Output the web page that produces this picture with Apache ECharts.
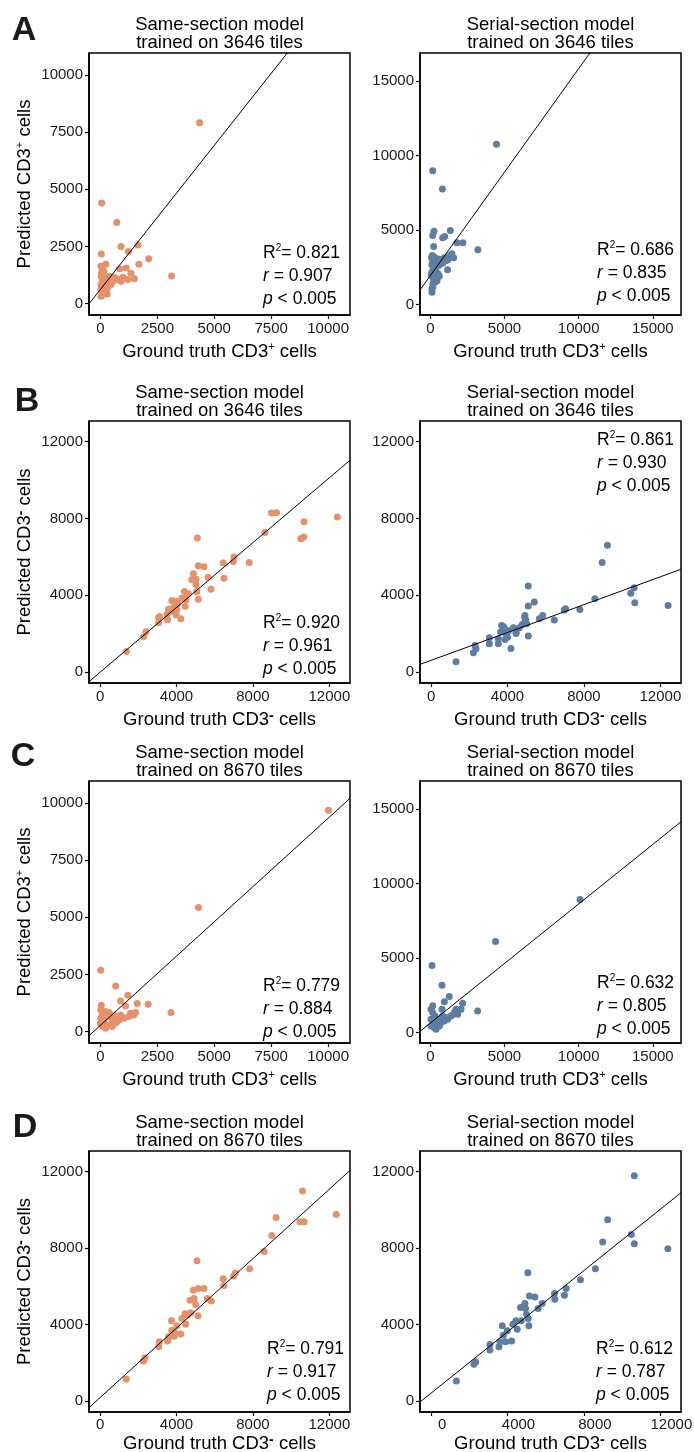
<!DOCTYPE html>
<html>
<head>
<meta charset="utf-8">
<script src="https://cdn.jsdelivr.net/npm/echarts@6/dist/echarts.min.js"></script>
<style>
  html, body { margin: 0; padding: 0; background: #fff; }
  #main { width: 694px; height: 1452px; }
</style>
</head>
<body>
<div id="main"></div>
<script>
// ground truth vs predicted cell counts
const aSame = [[4357, 7909], [58, 4400], [720, 3545], [44, 2164], [905, 2500], [1650, 2558], [1230, 2275], [2120, 1965],
  [1690, 1720], [3128, 1205], [240, 1725], [1130, 1555], [850, 1520], [1340, 1330], [1490, 1085], [1200, 1055],
  [88, 1513], [101, 1272], [395, 1199], [686, 1053], [905, 980], [540, 980], [246, 906], [26, 833], [26, 614],
  [175, 468], [26, 322], [320, 687], [465, 833], [100, 1053], [26, 1199], [26, 1637], [150, 1400], [200, 1150],
  [300, 1000], [120, 750], [60, 550], [230, 560], [380, 1100], [620, 1150], [760, 1080], [1000, 1150], [50, 1350],
  [180, 1000], [120, 400], [300, 420]];
const aSerial = [[4462, 10762], [157, 8991], [807, 7758], [1345, 4978], [242, 4930], [155, 4641], [962, 4574], [827, 4484],
  [222, 3901], [1789, 4148], [2193, 4148], [3202, 3679], [1453, 3410], [1567, 3141], [1184, 3007], [827, 2780],
  [1164, 2332], [558, 2623], [336, 2174], [222, 1614], [108, 827], [155, 1165], [424, 1726], [130, 3300], [250, 3200],
  [400, 3100], [590, 3050], [150, 3000], [300, 2900], [480, 2850], [700, 3000], [100, 2700], [200, 2500], [350, 2400],
  [500, 2100], [120, 2200], [250, 1900], [100, 1900], [180, 1350], [100, 1050], [300, 1500], [450, 1600], [600, 1900],
  [950, 3150], [1300, 3300], [60, 2050], [80, 3150], [1050, 2950]];
const bSame = [[1374, 1061], [2278, 1826], [2400, 2087], [3061, 2817], [3061, 2557], [3530, 2730], [3496, 2991], [3580, 3270],
  [3757, 3722], [3757, 3165], [3930, 3252], [3841, 3357], [4017, 3687], [3981, 2974], [4017, 3235], [4226, 2765],
  [4049, 3548], [4278, 3844], [4414, 4191], [4414, 3844], [4503, 3757], [4452, 3426], [4623, 4070], [4800, 4800],
  [4883, 5113], [5024, 4835], [5024, 4539], [5061, 4191], [5144, 3791], [5092, 6975], [5144, 5530], [5442, 5478],
  [5650, 4940], [5807, 4313], [6485, 4887], [6449, 5671], [6970, 5755], [7007, 5984], [7805, 5703], [8624, 7268],
  [8974, 8278], [9235, 8296], [10504, 6939], [10661, 7026], [10678, 7826], [12417, 8070], [3111, 2887], [3527, 2713]];
const bSerial = [[1307, 523], [2213, 993], [2352, 1202], [2300, 1376], [3049, 1463], [3049, 1777], [3519, 1463], [3519, 1725],
  [3641, 2073], [3693, 2422], [3868, 2213], [3868, 1690], [3950, 1950], [4050, 2150], [4181, 1220], [4303, 2300],
  [4443, 2073], [4617, 2300], [4774, 2474], [4913, 2944], [4948, 2700], [5000, 2509], [5087, 4477], [5087, 1864],
  [5087, 3432], [5401, 3641], [5662, 2770], [5836, 2944], [6446, 2700], [6969, 3223], [7038, 3293], [7787, 3258],
  [8571, 3815], [8955, 5697], [9233, 6603], [10453, 4094], [10627, 4390], [10662, 3606], [12404, 3467], [3800, 2350],
  [4450, 2000], [4900, 2850], [4000, 1800], [4950, 2600]];
const cSame = [[10015, 9680], [4309, 5429], [15, 2678], [670, 1994], [1208, 1587], [888, 1339], [1106, 1121], [1616, 1223],
  [2096, 1194], [3100, 830], [1325, 800], [1470, 728], [815, 509], [15, 946], [87, 728], [233, 873], [378, 655],
  [0, 364], [87, 218], [306, 291], [524, 437], [670, 582], [888, 728], [1033, 582], [1252, 655], [1543, 830],
  [233, 146], [524, 218], [15, 582], [378, 830], [597, 728], [40, 1150], [150, 500], [700, 400]];
const cSerial = [[10090, 8946], [4395, 6121], [112, 4507], [785, 3184], [1278, 2422], [942, 2063], [2175, 1973], [3184, 1457],
  [157, 1794], [785, 1570], [1726, 1570], [1570, 1233], [45, 1570], [157, 1345], [314, 1121], [45, 897], [269, 673],
  [493, 897], [45, 448], [269, 336], [605, 448], [942, 785], [1166, 897], [1390, 1121], [1614, 1345], [381, 224],
  [830, 1121], [1054, 1009], [1839, 1233], [2063, 1570], [717, 673], [157, 561]];
const dSame = [[1368, 1148], [2268, 2087], [2355, 2261], [3065, 2835], [3100, 3096], [3584, 3357], [3532, 3130], [3740, 4191],
  [3758, 3704], [3879, 3391], [4017, 3930], [4225, 3496], [4277, 4313], [4485, 4017], [4450, 4557], [4745, 4609],
  [4710, 5270], [4883, 5791], [4918, 5357], [5004, 5043], [5074, 7339], [5126, 4452], [5143, 5878], [5437, 5878],
  [5610, 5357], [5818, 5235], [6442, 6400], [6476, 6035], [6996, 6539], [7082, 6696], [7827, 6922], [8589, 7826],
  [8987, 8661], [9212, 9600], [10459, 9374], [10684, 9374], [10597, 10991], [12364, 9757], [3900, 3600], [4600, 4500]];
const dSerial = [[1323, 1043], [2245, 1913], [2333, 2052], [3081, 2661], [3081, 2957], [3551, 2835], [3603, 3096], [3725, 3930],
  [3777, 3443], [3899, 3096], [3986, 3670], [4212, 3130], [4282, 4017], [4508, 3757], [4439, 4191], [4717, 4191],
  [4682, 4887], [4909, 5096], [4944, 4835], [4996, 4539], [5065, 6713], [5083, 4313], [5117, 3930], [5152, 5496],
  [5431, 5443], [5605, 4835], [5814, 5096], [6458, 5617], [6475, 5322], [6980, 5530], [7067, 5878], [7815, 6348],
  [8599, 6922], [8982, 8313], [9243, 9478], [10479, 8713], [10635, 8226], [10635, 11791], [12393, 7965]];

// fitted lines and stats, panel order A-left, A-right, B-left ... D-right
const fitSlope = [1.26, 1.39, 0.845, 0.363, 0.906, 0.80, 0.909, 0.802];
const fitIntercept = [620, 1950, -20, 601, 272, 643, 175, 407];
const r2Labels = ['0.821', '0.686', '0.920', '0.861', '0.779', '0.632', '0.791', '0.612'];
const rLabels = ['0.907', '0.835', '0.961', '0.930', '0.884', '0.805', '0.917', '0.787'];
const tileCounts = ['3646', '3646', '3646', '3646', '8670', '8670', '8670', '8670'];
const panelLetters = ['A', 'B', 'C', 'D'];

const posTicks = [0, 2500, 5000, 7500, 10000];
const posSerialTicks = [0, 5000, 10000, 15000];
const negTicks = [0, 4000, 8000, 12000];

const FONT = '"Liberation Sans", Arial, Helvetica, sans-serif';
const ORANGE = '#E5916B';
const BLUE = '#5E7DA3';

const posRange = [-500, 10960];
const posSerialRange = [-700, 16900];
const negRange = [-580, 13080];

// layout of each panel box (left, top, width, height) and where the stats go
const panels = [
  { data: aSame, color: ORANGE, box: [89, 53, 261, 262], range: posRange, ticks: posTicks, sign: '+', model: 'Same-section', stat: [263, 253] },
  { data: aSerial, color: BLUE, box: [420, 53, 261, 262], range: posSerialRange, ticks: posSerialTicks, sign: '+', model: 'Serial-section', stat: [597, 250] },
  { data: bSame, color: ORANGE, box: [89, 421, 261, 262], range: negRange, ticks: negTicks, sign: '-', model: 'Same-section', stat: [263, 623] },
  { data: bSerial, color: BLUE, box: [420, 421, 261, 262], range: negRange, ticks: negTicks, sign: '-', model: 'Serial-section', stat: [597, 440] },
  { data: cSame, color: ORANGE, box: [89, 781, 261, 262], range: posRange, ticks: posTicks, sign: '+', model: 'Same-section', stat: [263, 986] },
  { data: cSerial, color: BLUE, box: [420, 781, 261, 262], range: posSerialRange, ticks: posSerialTicks, sign: '+', model: 'Serial-section', stat: [597, 983] },
  { data: dSame, color: ORANGE, box: [89, 1151, 261, 261], range: negRange, ticks: negTicks, sign: '-', model: 'Same-section', stat: [267, 1349], nameGap: 19, labelMargin: 5 },
  { data: dSerial, color: BLUE, box: [420, 1151, 261, 261], range: negRange, ticks: negTicks, sign: '-', model: 'Serial-section', stat: [596, 1349], nameGap: 19, labelMargin: 5, shiftLabels: true }
];
const letterPos = [[24, 31], [27, 402], [23, 757], [25, 1128]];

const nameRich = {
  t: { fontSize: 18.5, fontFamily: FONT, color: '#000', lineHeight: 22, verticalAlign: 'middle' },
  s: { fontSize: 11, fontFamily: FONT, color: '#000', verticalAlign: 'top' },
  m: { fontSize: 14, fontFamily: FONT, color: '#000', verticalAlign: 'top', fontWeight: 'bold' }
};
function axisName(prefix, sign) {
  return '{t|' + prefix + ' CD3}' + (sign === '+' ? '{s|+}' : '{m|-}') + '{t| cells}';
}
function plain(v) { return String(v); }

const grids = [], xAxes = [], yAxes = [], series = [], graphics = [];

panels.forEach(function (p, i) {
  grids.push({
    left: p.box[0], top: p.box[1], width: p.box[2], height: p.box[3],
    outerBoundsMode: 'none', containLabel: false,
    show: true, borderColor: '#000', borderWidth: 1.5, backgroundColor: 'transparent'
  });
  const tick = { show: true, inside: false, length: 4, lineStyle: { color: '#000', width: 1.2 }, customValues: p.ticks };
  xAxes.push({
    gridIndex: i, type: 'value', min: p.range[0], max: p.range[1],
    axisLine: { show: true, onZero: false, lineStyle: { color: '#000', width: 1.5 } },
    splitLine: { show: false },
    axisTick: tick,
    axisLabel: {
      customValues: p.ticks, formatter: plain, color: '#1a1a1a', fontSize: 15, fontFamily: FONT,
      margin: p.labelMargin || 6,
      padding: p.shiftLabels ? [0, 0, 0, 22] : 0
    },
    name: axisName('Ground truth', p.sign), nameLocation: 'middle', nameGap: p.nameGap || 26,
    nameTextStyle: { rich: nameRich }
  });
  yAxes.push({
    gridIndex: i, type: 'value', min: p.range[0], max: p.range[1],
    axisLine: { show: true, onZero: false, lineStyle: { color: '#000', width: 1.5 } },
    splitLine: { show: false },
    axisTick: tick,
    axisLabel: { customValues: p.ticks, formatter: plain, color: '#1a1a1a', fontSize: 15, fontFamily: FONT, margin: 6 },
    name: i % 2 === 0 ? axisName('Predicted', p.sign) : '', nameLocation: 'middle', nameGap: 53,
    nameTextStyle: { rich: nameRich }
  });
  series.push({
    type: 'scatter', xAxisIndex: i, yAxisIndex: i, data: p.data,
    symbolSize: 7, itemStyle: { color: p.color, opacity: 1 }, silent: true, z: 2
  });
  const x0 = p.range[0], x1 = p.range[1];
  series.push({
    type: 'line', xAxisIndex: i, yAxisIndex: i,
    data: [[x0, fitIntercept[i] + fitSlope[i] * x0], [x1, fitIntercept[i] + fitSlope[i] * x1]],
    symbol: 'none', lineStyle: { color: '#000', width: 1 }, clip: true, silent: true, z: 3
  });

  // title above each box
  graphics.push({
    type: 'text', x: p.box[0] + p.box[2] / 2, y: p.box[1] - 19,
    style: {
      text: p.model + ' model\ntrained on ' + tileCounts[i] + ' tiles',
      font: '18.5px ' + FONT, fill: '#000', textAlign: 'center', textVerticalAlign: 'middle', lineHeight: 18
    }
  });
  // stats block
  const statRich = {
    n: { fontSize: 17.5, fontFamily: FONT, color: '#000', verticalAlign: 'middle', lineHeight: 20 },
    i: { fontSize: 17.5, fontFamily: FONT, fontStyle: 'italic', color: '#000', verticalAlign: 'middle', lineHeight: 20 },
    s: { fontSize: 10, fontFamily: FONT, color: '#000', verticalAlign: 'top' }
  };
  const statLines = [
    '{n|R}{s|2}{n|= ' + r2Labels[i] + '}',
    '{i|r}{n| = ' + rLabels[i] + '}',
    '{i|p}{n| < 0.005}'
  ];
  statLines.forEach(function (t, k) {
    graphics.push({
      type: 'text', x: p.stat[0], y: p.stat[1] + k * 23.3,
      style: { text: t, rich: statRich, textAlign: 'left', textVerticalAlign: 'middle' }
    });
  });
});

panelLetters.forEach(function (l, k) {
  graphics.push({
    type: 'text', x: letterPos[k][0], y: letterPos[k][1],
    style: { text: l, font: 'bold 34px ' + FONT, fill: '#1a1a1a', textAlign: 'center', textVerticalAlign: 'middle' }
  });
});

const chart = echarts.init(document.getElementById('main'));
chart.setOption({
  animation: false,
  backgroundColor: '#fff',
  grid: grids,
  xAxis: xAxes,
  yAxis: yAxes,
  series: series,
  graphic: graphics
});
</script>
</body>
</html>
